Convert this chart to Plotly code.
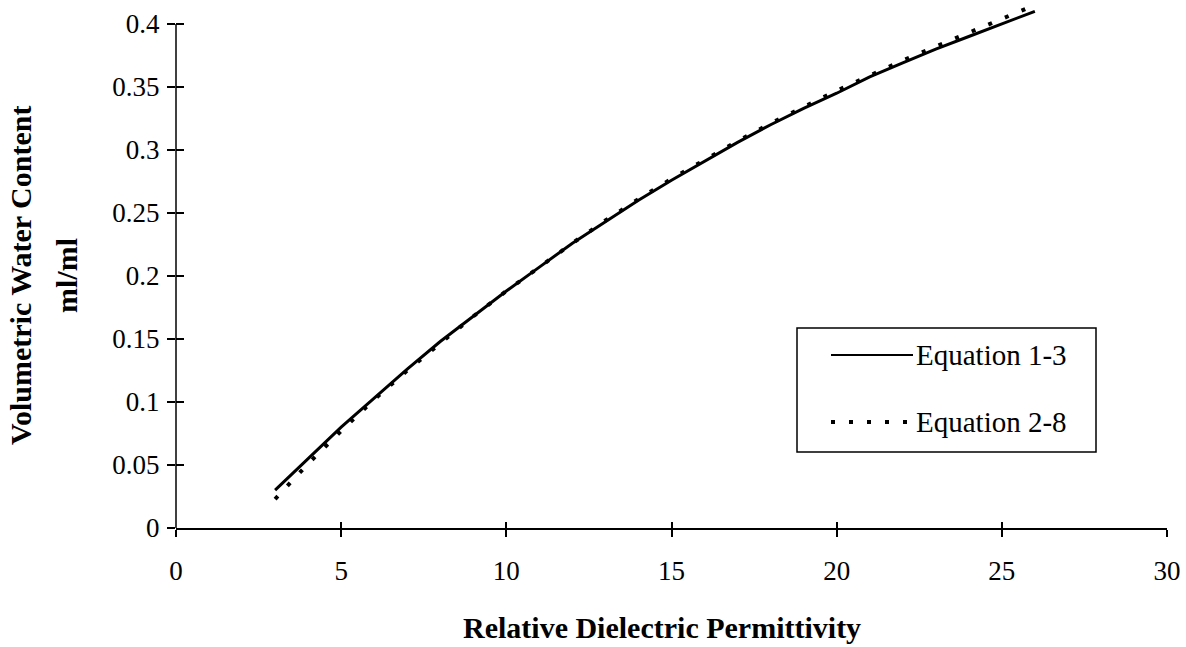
import plotly.graph_objects as go

# Relative dielectric permittivity (K) and volumetric water content (ml/ml)
permittivity = [3, 4, 5, 6, 7, 8, 9, 10, 11, 12, 13, 14, 15, 16, 17, 18,
                19, 20, 21, 22, 23, 24, 25, 26]
eq_1_3 = [0.030, 0.055, 0.080, 0.103, 0.126, 0.148, 0.168, 0.188, 0.207,
          0.226, 0.243, 0.260, 0.276, 0.291, 0.306, 0.320, 0.333, 0.345,
          0.358, 0.369, 0.380, 0.390, 0.400, 0.410]
eq_2_8 = [0.023, 0.051, 0.077, 0.102, 0.125, 0.147, 0.168, 0.188, 0.207,
          0.226, 0.244, 0.261, 0.277, 0.292, 0.307, 0.321, 0.334, 0.347,
          0.359, 0.371, 0.382, 0.393, 0.404, 0.415]

x_ticks = [0, 5, 10, 15, 20, 25, 30]
y_ticks = [0, 0.05, 0.1, 0.15, 0.2, 0.25, 0.3, 0.35, 0.4]
y_tick_text = ["0", "0.05", "0.1", "0.15", "0.2", "0.25", "0.3", "0.35", "0.4"]

X_RANGE = [0, 30]
Y_RANGE = [0, 0.415]

FONT = "Liberation Serif"
W, H = 1186, 647
ML, MR, MT, MB = 176, 19, 5, 119
PW, PH = W - ML - MR, H - MT - MB


def px(x):
    return (x - ML) / PW


def py(y):
    return (H - MB - y) / PH


fig = go.Figure()
fig.add_trace(go.Scatter(x=permittivity, y=eq_1_3, mode="lines",
                         line=dict(color="black", width=3),
                         name="Equation 1-3", showlegend=False))
fig.add_trace(go.Scatter(x=permittivity, y=eq_2_8, mode="lines",
                         line=dict(color="black", width=4, dash="4px,14px"),
                         name="Equation 2-8", showlegend=False))
# invisible trace on the overlay axes that carry the inner halves of the ticks
fig.add_trace(go.Scatter(x=[None], y=[None], xaxis="x2", yaxis="y2",
                         showlegend=False, hoverinfo="skip"))

tick_font = dict(family=FONT, size=27, color="black")
fig.update_layout(
    width=W, height=H,
    margin=dict(l=ML, r=MR, t=MT, b=MB),
    plot_bgcolor="white", paper_bgcolor="white",
    showlegend=False,
    xaxis=dict(range=X_RANGE, tickvals=x_ticks, ticks="outside", ticklen=7,
               tickwidth=1.5, tickcolor="black", showline=True,
               linecolor="black", linewidth=1.5, showgrid=False,
               zeroline=False, tickfont=tick_font, ticklabelstandoff=11),
    yaxis=dict(range=Y_RANGE, tickvals=y_ticks, ticktext=y_tick_text,
               ticks="outside", ticklen=8, tickwidth=1.5, tickcolor="black",
               showline=False, showgrid=False, zeroline=False,
               tickfont=tick_font, ticklabelstandoff=2),
    xaxis2=dict(range=X_RANGE, tickvals=x_ticks, ticks="inside", ticklen=6,
                tickwidth=1.5, tickcolor="black", overlaying="x",
                side="bottom", showticklabels=False, showline=False,
                showgrid=False, zeroline=False),
    yaxis2=dict(range=Y_RANGE, tickvals=y_ticks, ticks="inside", ticklen=8,
                tickwidth=1.5, tickcolor="black", overlaying="y",
                side="left", showticklabels=False, showline=False,
                showgrid=False, zeroline=False),
)

# y axis line stops at the top tick
fig.add_shape(type="line", xref="paper", yref="paper", x0=0, x1=0,
              y0=0, y1=y_ticks[-1] / Y_RANGE[1],
              line=dict(color="black", width=1.5))

# axis titles
title_font = dict(family=FONT, size=30, color="black")
fig.add_annotation(text="<b>Relative Dielectric Permittivity</b>",
                   xref="paper", yref="paper", x=px(662), y=py(627),
                   xanchor="center", yanchor="middle", showarrow=False,
                   font=title_font)
fig.add_annotation(text="<b>Volumetric Water Content</b>",
                   xref="paper", yref="paper", x=px(20), y=py(276),
                   xanchor="center", yanchor="middle", showarrow=False,
                   textangle=-90, font=title_font)
fig.add_annotation(text="<b>ml/ml</b>",
                   xref="paper", yref="paper", x=px(66), y=py(276),
                   xanchor="center", yanchor="middle", showarrow=False,
                   textangle=-90, font=title_font)

# legend box with line samples
fig.add_shape(type="rect", xref="paper", yref="paper",
              x0=px(797), x1=px(1096), y0=py(452), y1=py(328),
              line=dict(color="black", width=1.5), fillcolor="white",
              layer="above")
legend_rows = [("Equation 1-3", 355, dict(color="black", width=2)),
               ("Equation 2-8", 422, dict(color="black", width=4, dash="4px,14px"))]
for label, row_y, style in legend_rows:
    fig.add_shape(type="line", xref="paper", yref="paper",
                  x0=px(831), x1=px(913), y0=py(row_y), y1=py(row_y),
                  line=style, layer="above")
    fig.add_annotation(text=label, xref="paper", yref="paper",
                       x=px(914), y=py(row_y), xanchor="left",
                       yanchor="middle", showarrow=False,
                       font=dict(family=FONT, size=29, color="black"))

fig.write_html("out.html")
